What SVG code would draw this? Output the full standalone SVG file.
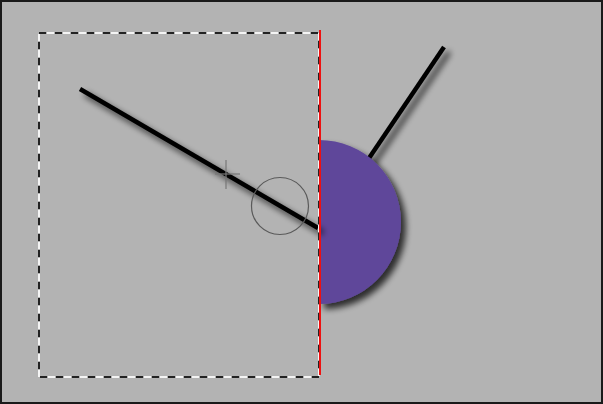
<svg xmlns="http://www.w3.org/2000/svg" width="603" height="404" viewBox="0 0 603 404">
<defs>
<filter id="sh" x="-20%" y="-20%" width="150%" height="150%">
<feGaussianBlur in="SourceAlpha" stdDeviation="3.2"/>
<feOffset dx="5" dy="5" result="b"/>
<feComponentTransfer in="b" result="c"><feFuncA type="linear" slope="0.75"/></feComponentTransfer>
<feMerge><feMergeNode in="c"/><feMergeNode in="SourceGraphic"/></feMerge>
</filter>
<style>
.stick{stroke:#000;stroke-width:4.5;stroke-linecap:butt;fill:none}
.dk{fill:none;stroke:#222;stroke-width:2;stroke-dasharray:7 9}
.wt{fill:none;stroke:#f4f4f4;stroke-width:2;stroke-dasharray:7 9;stroke-dashoffset:-8}
</style>
</defs>
<rect x="1" y="1" width="601" height="402" fill="#b3b3b3" stroke="#1a1a1a" stroke-width="2"/>
<g id="stick2" filter="url(#sh)"><line class="stick" x1="444" y1="47" x2="330" y2="216"/></g>
<g id="halfdisc" filter="url(#sh)"><path d="M319,140 A82,82 0 0 1 319,304 Z" fill="#5e479a"/></g>
<g id="stick1" filter="url(#sh)"><line class="stick" x1="80" y1="89" x2="318" y2="228"/></g>
<g id="ring"><circle cx="280" cy="206" r="28.5" fill="none" stroke="#5a5a5a" stroke-width="1.2"/></g>
<g id="cross" stroke="#777" stroke-width="1.2"><line x1="215" y1="174" x2="240" y2="174"/><line x1="226" y1="160" x2="226" y2="189"/></g>
<g id="selection">
<rect class="dk" x="39" y="33" width="280" height="344"/>
<rect class="wt" x="39" y="33" width="280" height="344"/>
</g>
<g id="redline"><line x1="320" y1="30" x2="320" y2="375" stroke="#ee1111" stroke-width="2"/></g>
</svg>
